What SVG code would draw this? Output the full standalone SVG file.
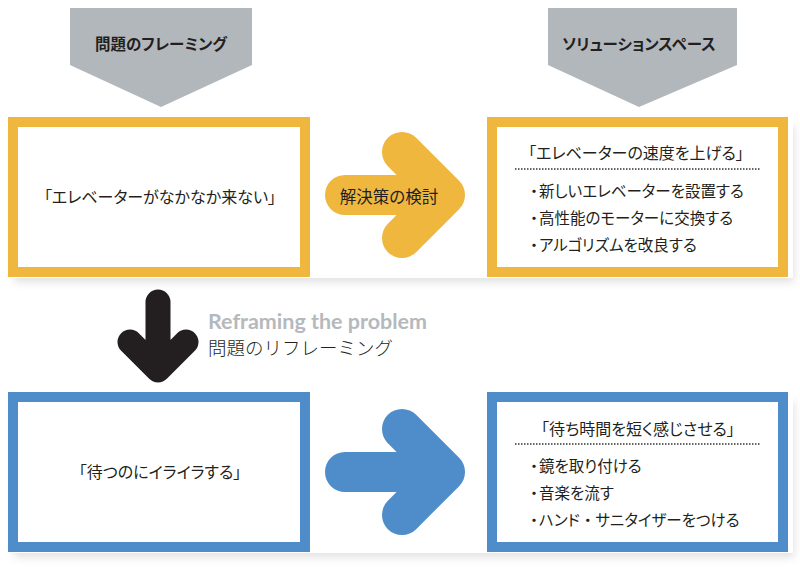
<svg xmlns="http://www.w3.org/2000/svg" width="800" height="568" viewBox="0 0 800 568">
<defs>
<filter id="sh" x="-5%" y="-20%" width="110%" height="140%"><feGaussianBlur stdDeviation="4"/></filter>
<style>
.jp{font-family:"Noto Sans CJK JP","Noto Sans",sans-serif;font-feature-settings:"palt";fill:#231f20}
.fw{font-feature-settings:normal}
.chev{fill:#b2b7bc}
.y{fill:#fff;stroke:#f0b73f;stroke-width:10}
.b{fill:#fff;stroke:#4f8dca;stroke-width:10}
.dot{stroke:#333;stroke-width:1.5;stroke-dasharray:1.5 1.5}
.arr{fill:none;stroke-linecap:round;stroke-linejoin:round}
</style>
</defs>
<rect width="800" height="568" fill="#fff"/>
<g opacity="0.3" filter="url(#sh)">
<rect x="14" y="126" width="780" height="156" fill="#9a9a9a"/>
<rect x="14" y="401" width="780" height="156" fill="#9a9a9a"/>
</g>
<rect x="8" y="114" width="785" height="164" fill="#fff"/>
<rect x="8" y="389" width="785" height="164" fill="#fff"/>
<g id="header-left">
<polygon class="chev" points="70,8 252,8 252,65 161,107 70,65"/>
<text class="jp" x="161" y="50" font-size="15.5" font-weight="700" text-anchor="middle">問題のフレーミング</text>
</g>
<g id="header-right">
<polygon class="chev" points="548,8 737,8 737,65 639,107 548,65"/>
<text class="jp" x="639" y="50" font-size="15.5" font-weight="700" text-anchor="middle">ソリューションスペース</text>
</g>
<g id="problem1">
<rect class="y" x="13" y="122" width="292" height="150"/>
<text class="jp" x="160" y="203" font-size="16" text-anchor="middle">「エレベーターがなかなか来ない」</text>
</g>
<g id="solution1">
<rect class="y" x="492" y="122" width="291" height="150"/>
<text class="jp" x="636" y="159" font-size="16" text-anchor="middle">「エレベーターの速度を上げる」</text>
<line class="dot" x1="515" y1="169" x2="760" y2="169"/>
<text class="jp" x="530" y="197" font-size="15.5">・</text>
<text class="jp" x="539" y="197" font-size="15.5">新しいエレベーターを設置する</text>
<text class="jp" x="530" y="224" font-size="15.5">・</text>
<text class="jp" x="539" y="224" font-size="15.5">高性能のモーターに交換する</text>
<text class="jp" x="530" y="251" font-size="15.5">・</text>
<text class="jp" x="539" y="251" font-size="15.5">アルゴリズムを改良する</text>
</g>
<g id="problem2">
<rect class="b" x="13" y="397" width="292" height="150"/>
<text class="jp" x="160" y="478" font-size="16" text-anchor="middle">「待つのにイライラする」</text>
</g>
<g id="solution2">
<rect class="b" x="492" y="397" width="291" height="150"/>
<text class="jp" x="638" y="435" font-size="16" text-anchor="middle">「待ち時間を短く感じさせる」</text>
<line class="dot" x1="515" y1="444" x2="760" y2="444"/>
<text class="jp" x="530" y="472" font-size="15.5">・</text>
<text class="jp" x="539" y="472" font-size="15.5">鏡を取り付ける</text>
<text class="jp" x="530" y="499" font-size="15.5">・</text>
<text class="jp" x="539" y="499" font-size="15.5">音楽を流す</text>
<text class="jp" x="530" y="526" font-size="15.5">・</text>
<text class="jp" x="539" y="526" font-size="15.5">ハンド<tspan class="fw">・</tspan>サニタイザーをつける</text>
</g>
<g id="connectors">
<path class="arr" stroke="#f0b73f" stroke-width="40" d="M345,195 H445 M402,152 L445,195 L402,238"/>
<text class="jp" x="389" y="203" font-size="16.5" text-anchor="middle">解決策の検討</text>
<path class="arr" stroke="#4f8dca" stroke-width="40" d="M345,472 H445 M402,429 L445,472 L402,515"/>
<path class="arr" stroke="#231f20" stroke-width="25" d="M158,302 V370 M130,342 L158,370 L186,342"/>
<text x="208" y="329" font-family="Lato,'Open Sans',sans-serif" font-weight="700" font-size="20" fill="#b5b9bd" textLength="219" lengthAdjust="spacingAndGlyphs">Reframing the problem</text>
<text class="jp fw" x="208" y="355" font-size="18.5" font-weight="300" textLength="185" lengthAdjust="spacingAndGlyphs">問題のリフレーミング</text>
</g>
</svg>
